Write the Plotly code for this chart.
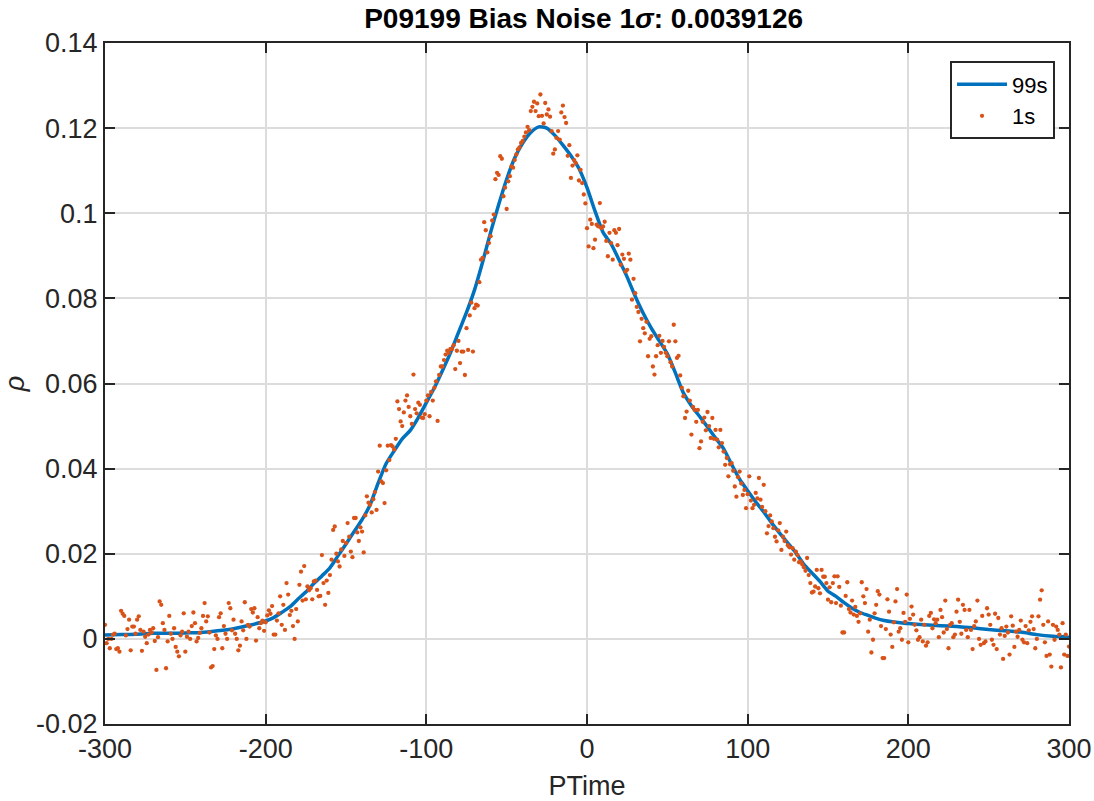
import plotly.graph_objects as go

# ---- data ----
line_x = [-300, -290, -280, -270, -260, -250, -240, -230, -220, -210, -200, -195, -190, -185, -180,
          -175, -170, -165, -160, -155, -150, -145, -140, -135, -130, -125, -120, -115, -110, -105,
          -100, -95, -90, -85, -80, -75, -70, -65, -60, -55, -50, -45, -40, -35, -30, -25, -20, -15,
          -10, -5, 0, 5, 10, 15, 20, 25, 30, 35, 40, 45, 50, 55, 60, 65, 70, 75, 80, 85, 90, 95, 100,
          105, 110, 115, 120, 125, 130, 135, 140, 145, 150, 155, 160, 165, 170, 175, 180, 185, 190,
          195, 200, 210, 220, 230, 240, 250, 260, 270, 280, 290, 300]
line_rho = [0.0009, 0.0010, 0.0011, 0.0013, 0.0013, 0.0014, 0.0015, 0.0019, 0.0024, 0.0032, 0.0042,
            0.0050, 0.0062, 0.0075, 0.0093, 0.0110, 0.0130, 0.0148, 0.0167, 0.0195, 0.0223, 0.0252,
            0.0280, 0.0315, 0.0366, 0.0412, 0.0442, 0.0470, 0.0490, 0.0520, 0.0555, 0.0590, 0.0630,
            0.0672, 0.0720, 0.0767, 0.0820, 0.0885, 0.0955, 0.1020, 0.1080, 0.1130, 0.1165, 0.1190,
            0.1203, 0.1200, 0.1183, 0.1160, 0.1135, 0.1105, 0.1060, 0.1005, 0.0955, 0.0928, 0.0890,
            0.0850, 0.0805, 0.0765, 0.0730, 0.0700, 0.0670, 0.0625, 0.0578, 0.0548, 0.0523, 0.0498,
            0.0472, 0.0447, 0.0410, 0.0375, 0.0348, 0.0322, 0.0298, 0.0272, 0.0248, 0.0225, 0.0202,
            0.0175, 0.0155, 0.0135, 0.0112, 0.0100, 0.0085, 0.0072, 0.0062, 0.0055, 0.0048, 0.0043,
            0.0040, 0.0038, 0.0036, 0.0033, 0.0031, 0.0029, 0.0026, 0.0022, 0.0019, 0.0016, 0.0010,
            0.0006, 0.0004]

dots_x = list(range(-300, 301))
dots_rho = [
    0.0033, -0.0010, 0.0000, -0.0022, 0.0000, 0.0010, 0.0012, -0.0024, -0.0022, -0.0030,
    0.0066, 0.0059, 0.0054, 0.0008, 0.0023, 0.0045, -0.0027, 0.0029, 0.0029, 0.0012,
    0.0045, 0.0053, 0.0021, -0.0028, 0.0017, 0.0005, -0.0010, 0.0010, 0.0021, 0.0015,
    0.0025, -0.0005, -0.0073, 0.0004, 0.0088, 0.0080, 0.0037, 0.0021, -0.0069, -0.0006,
    0.0054, 0.0012, 0.0000, 0.0025, -0.0019, -0.0030, -0.0041, 0.0008, 0.0017, 0.0060,
    -0.0030, 0.0005, 0.0017, 0.0000, 0.0030, 0.0062, 0.0037, -0.0006, 0.0002, 0.0014,
    0.0025, 0.0054, 0.0084, 0.0041, 0.0053, 0.0015, -0.0067, -0.0064, -0.0024, 0.0008,
    0.0000, 0.0051, 0.0060, -0.0022, 0.0030, 0.0012, 0.0000, 0.0084, 0.0072, 0.0020,
    0.0045, 0.0012, 0.0000, -0.0027, -0.0016, 0.0041, 0.0020, 0.0086, 0.0000, 0.0033,
    0.0029, 0.0070, 0.0062, 0.0072, -0.0004, 0.0051, 0.0025, 0.0037, 0.0043, 0.0019,
    0.0039, 0.0055, 0.0067, 0.0059, 0.0077, 0.0010, 0.0010, 0.0043, 0.0060, 0.0100,
    0.0033, 0.0080, 0.0021, 0.0131, 0.0104, 0.0056, 0.0066, 0.0030, 0.0000, 0.0070,
    0.0041, 0.0127, 0.0158, 0.0090, 0.0171, 0.0093, 0.0123, 0.0114, 0.0119, 0.0093,
    0.0135, 0.0137, 0.0115, 0.0100, 0.0101, 0.0197, 0.0131, 0.0080, 0.0137, 0.0108,
    0.0150, 0.0186, 0.0256, 0.0264, 0.0200, 0.0182, 0.0170, 0.0210, 0.0230, 0.0195,
    0.0225, 0.0272, 0.0240, 0.0205, 0.0192, 0.0284, 0.0284, 0.0250, 0.0230, 0.0262,
    0.0252, 0.0203, 0.0290, 0.0335, 0.0320, 0.0315, 0.0297, 0.0328, 0.0345, 0.0303,
    0.0393, 0.0454, 0.0370, 0.0366, 0.0319, 0.0396, 0.0454, 0.0420, 0.0455, 0.0452,
    0.0445, 0.0470, 0.0558, 0.0540, 0.0511, 0.0500, 0.0532, 0.0560, 0.0572, 0.0545,
    0.0523, 0.0505, 0.0621, 0.0540, 0.0530, 0.0555, 0.0550, 0.0520, 0.0519, 0.0528,
    0.0560, 0.0572, 0.0523, 0.0580, 0.0560, 0.0590, 0.0605, 0.0512, 0.0620, 0.0640,
    0.0640, 0.0655, 0.0668, 0.0677, 0.0672, 0.0681, 0.0681, 0.0690, 0.0634, 0.0677,
    0.0700, 0.0648, 0.0675, 0.0675, 0.0620, 0.0730, 0.0679, 0.0760, 0.0790, 0.0675,
    0.0777, 0.0785, 0.0783, 0.0838, 0.0891, 0.0895, 0.0979, 0.0960, 0.0908, 0.0930,
    0.0946, 0.0983, 0.0997, 0.1080, 0.1095, 0.1090, 0.1134, 0.1128, 0.1040, 0.1060,
    0.1010, 0.1075, 0.1087, 0.1110, 0.1107, 0.1125, 0.1138, 0.1150, 0.1155, 0.1165,
    0.1170, 0.1180, 0.1190, 0.1203, 0.1195, 0.1240, 0.1250, 0.1262, 0.1240, 0.1258,
    0.1228, 0.1279, 0.1229, 0.1211, 0.1259, 0.1232, 0.1244, 0.1227, 0.1193, 0.1140,
    0.1150, 0.1177, 0.1193, 0.1173, 0.1237, 0.1253, 0.1226, 0.1212, 0.1135, 0.1160,
    0.1083, 0.1112, 0.1125, 0.1118, 0.1136, 0.1077, 0.1102, 0.1071, 0.1044, 0.1023,
    0.0965, 0.0922, 0.0985, 0.0975, 0.0918, 0.0938, 0.0973, 0.0969, 0.1024, 0.0965,
    0.0969, 0.0980, 0.0935, 0.0899, 0.0954, 0.0930, 0.0891, 0.0960, 0.0954, 0.0925,
    0.0963, 0.0879, 0.0903, 0.0893, 0.0863, 0.0867, 0.0905, 0.0891, 0.0797, 0.0846,
    0.0812, 0.0780, 0.0768, 0.0699, 0.0752, 0.0730, 0.0718, 0.0745, 0.0664, 0.0705,
    0.0711, 0.0640, 0.0621, 0.0664, 0.0690, 0.0712, 0.0672, 0.0700, 0.0686, 0.0672,
    0.0664, 0.0699, 0.0650, 0.0640, 0.0738, 0.0699, 0.0660, 0.0665, 0.0619, 0.0590,
    0.0570, 0.0519, 0.0534, 0.0583, 0.0560, 0.0480, 0.0545, 0.0538, 0.0510, 0.0538,
    0.0448, 0.0464, 0.0510, 0.0520, 0.0490, 0.0533, 0.0500, 0.0472, 0.0519, 0.0470,
    0.0491, 0.0468, 0.0450, 0.0491, 0.0460, 0.0440, 0.0409, 0.0425, 0.0382, 0.0410,
    0.0413, 0.0395, 0.0358, 0.0334, 0.0380, 0.0393, 0.0365, 0.0338, 0.0350, 0.0307,
    0.0340, 0.0382, 0.0325, 0.0307, 0.0315, 0.0343, 0.0330, 0.0378, 0.0327, 0.0310,
    0.0362, 0.0300, 0.0248, 0.0265, 0.0290, 0.0276, 0.0260, 0.0240, 0.0229, 0.0255,
    0.0272, 0.0209, 0.0240, 0.0230, 0.0252, 0.0220, 0.0215, 0.0198, 0.0213, 0.0186,
    0.0205, 0.0197, 0.0180, 0.0182, 0.0175, 0.0168, 0.0160, 0.0190, 0.0150, 0.0131,
    0.0109, 0.0111, 0.0123, 0.0162, 0.0119, 0.0107, 0.0162, 0.0146, 0.0146, 0.0131,
    0.0092, 0.0121, 0.0086, 0.0131, 0.0147, 0.0084, 0.0147, 0.0122, 0.0078, 0.0015,
    0.0015, 0.0101, 0.0133, 0.0070, 0.0062, 0.0090, 0.0057, 0.0075, 0.0054, 0.0040,
    0.0060, 0.0133, 0.0100, 0.0084, 0.0117, 0.0017, 0.0045, -0.0032, -0.0002, 0.0060,
    0.0080, 0.0112, 0.0104, 0.0030, -0.0045, -0.0045, 0.0023, 0.0093, 0.0064, 0.0010,
    -0.0019, 0.0039, 0.0088, 0.0117, 0.0017, 0.0025, -0.0002, 0.0061, 0.0040, 0.0104,
    -0.0008, 0.0047, 0.0076, 0.0057, 0.0033, 0.0020, -0.0002, 0.0004, 0.0045, -0.0006,
    0.0033, -0.0016, -0.0008, 0.0054, 0.0061, 0.0025, 0.0046, 0.0037, 0.0045, 0.0004,
    0.0068, 0.0051, 0.0015, 0.0090, 0.0023, -0.0022, 0.0033, 0.0037, 0.0004, 0.0010,
    0.0064, 0.0092, 0.0040, 0.0012, 0.0080, 0.0068, 0.0021, 0.0004, 0.0068, 0.0021,
    -0.0024, 0.0030, 0.0041, 0.0090, 0.0000, -0.0014, 0.0054, -0.0010, -0.0006, 0.0072,
    0.0057, 0.0033, -0.0002, -0.0014, 0.0059, -0.0024, 0.0049, 0.0010, 0.0025, -0.0047,
    0.0007, 0.0029, 0.0015, -0.0037, 0.0053, 0.0031, -0.0019, 0.0017, 0.0005, 0.0021,
    0.0043, -0.0002, -0.0008, 0.0030, -0.0010, 0.0020, 0.0040, 0.0053, 0.0023, -0.0022,
    0.0000, 0.0053, 0.0092, 0.0114, 0.0033, -0.0008, -0.0040, 0.0041, -0.0037, -0.0065,
    0.0033, -0.0002, 0.0029, 0.0021, 0.0010, -0.0067, 0.0037, -0.0037, 0.0010, -0.0040, -0.0018,
]

x_tickvals = [-300, -200, -100, 0, 100, 200, 300]
x_ticktext = ["-300", "-200", "-100", "0", "100", "200", "300"]
y_tickvals = [-0.02, 0, 0.02, 0.04, 0.06, 0.08, 0.1, 0.12, 0.14]
y_ticktext = ["-0.02", "0", "0.02", "0.04", "0.06", "0.08", "0.1", "0.12", "0.14"]

title_text = "<b>P09199 Bias Noise 1<i>σ</i>: 0.0039126</b>"

FONT = "Liberation Sans, Arial, Helvetica, sans-serif"
AX = "#262626"
GRID = "#dcdcdc"

fig = go.Figure()
fig.add_trace(go.Scatter(x=line_x, y=line_rho, mode="lines", name="99s",
                         line=dict(color="#0072BD", width=3.5, shape="spline", smoothing=0.6)))
fig.add_trace(go.Scatter(x=dots_x, y=dots_rho, mode="markers", name="1s",
                         marker=dict(color="#D95319", size=4.3, line=dict(width=0))))

axis_common = dict(
    showline=True, linecolor=AX, linewidth=2, mirror="allticks",
    ticks="inside", ticklen=10, tickwidth=2, tickcolor=AX,
    showgrid=True, gridcolor=GRID, gridwidth=2, zeroline=False,
    tickfont=dict(family=FONT, size=27, color=AX),
    automargin=False,
)

fig.update_xaxes(range=[-300, 300], tickvals=x_tickvals, ticktext=x_ticktext,
                 title=dict(text="PTime", font=dict(family=FONT, size=27, color=AX), standoff=19),
                 **axis_common)
fig.update_yaxes(range=[-0.02, 0.14], tickvals=y_tickvals, ticktext=y_ticktext,
                 title=dict(text="<i>ρ</i>", font=dict(family=FONT, size=27, color=AX), standoff=22),
                 **axis_common)

fig.update_layout(
    width=1094, height=801,
    margin=dict(l=105, r=25, t=43, b=77, autoexpand=False),
    paper_bgcolor="white", plot_bgcolor="white",
    title=dict(text=title_text, x=0.5335, xanchor="center", yref="container", y=0.977,
               yanchor="middle", font=dict(family=FONT, size=28, color="#000000")),
    legend=dict(x=0.9855, xanchor="right", y=0.973, yanchor="top",
                bordercolor=AX, borderwidth=2, bgcolor="white",
                font=dict(family=FONT, size=22, color="#000000"),
                tracegroupgap=0, itemwidth=50),
    showlegend=True,
)

fig.write_html("out.html", config={"displayModeBar": False},
               post_script="document.body.style.margin='0px';")
